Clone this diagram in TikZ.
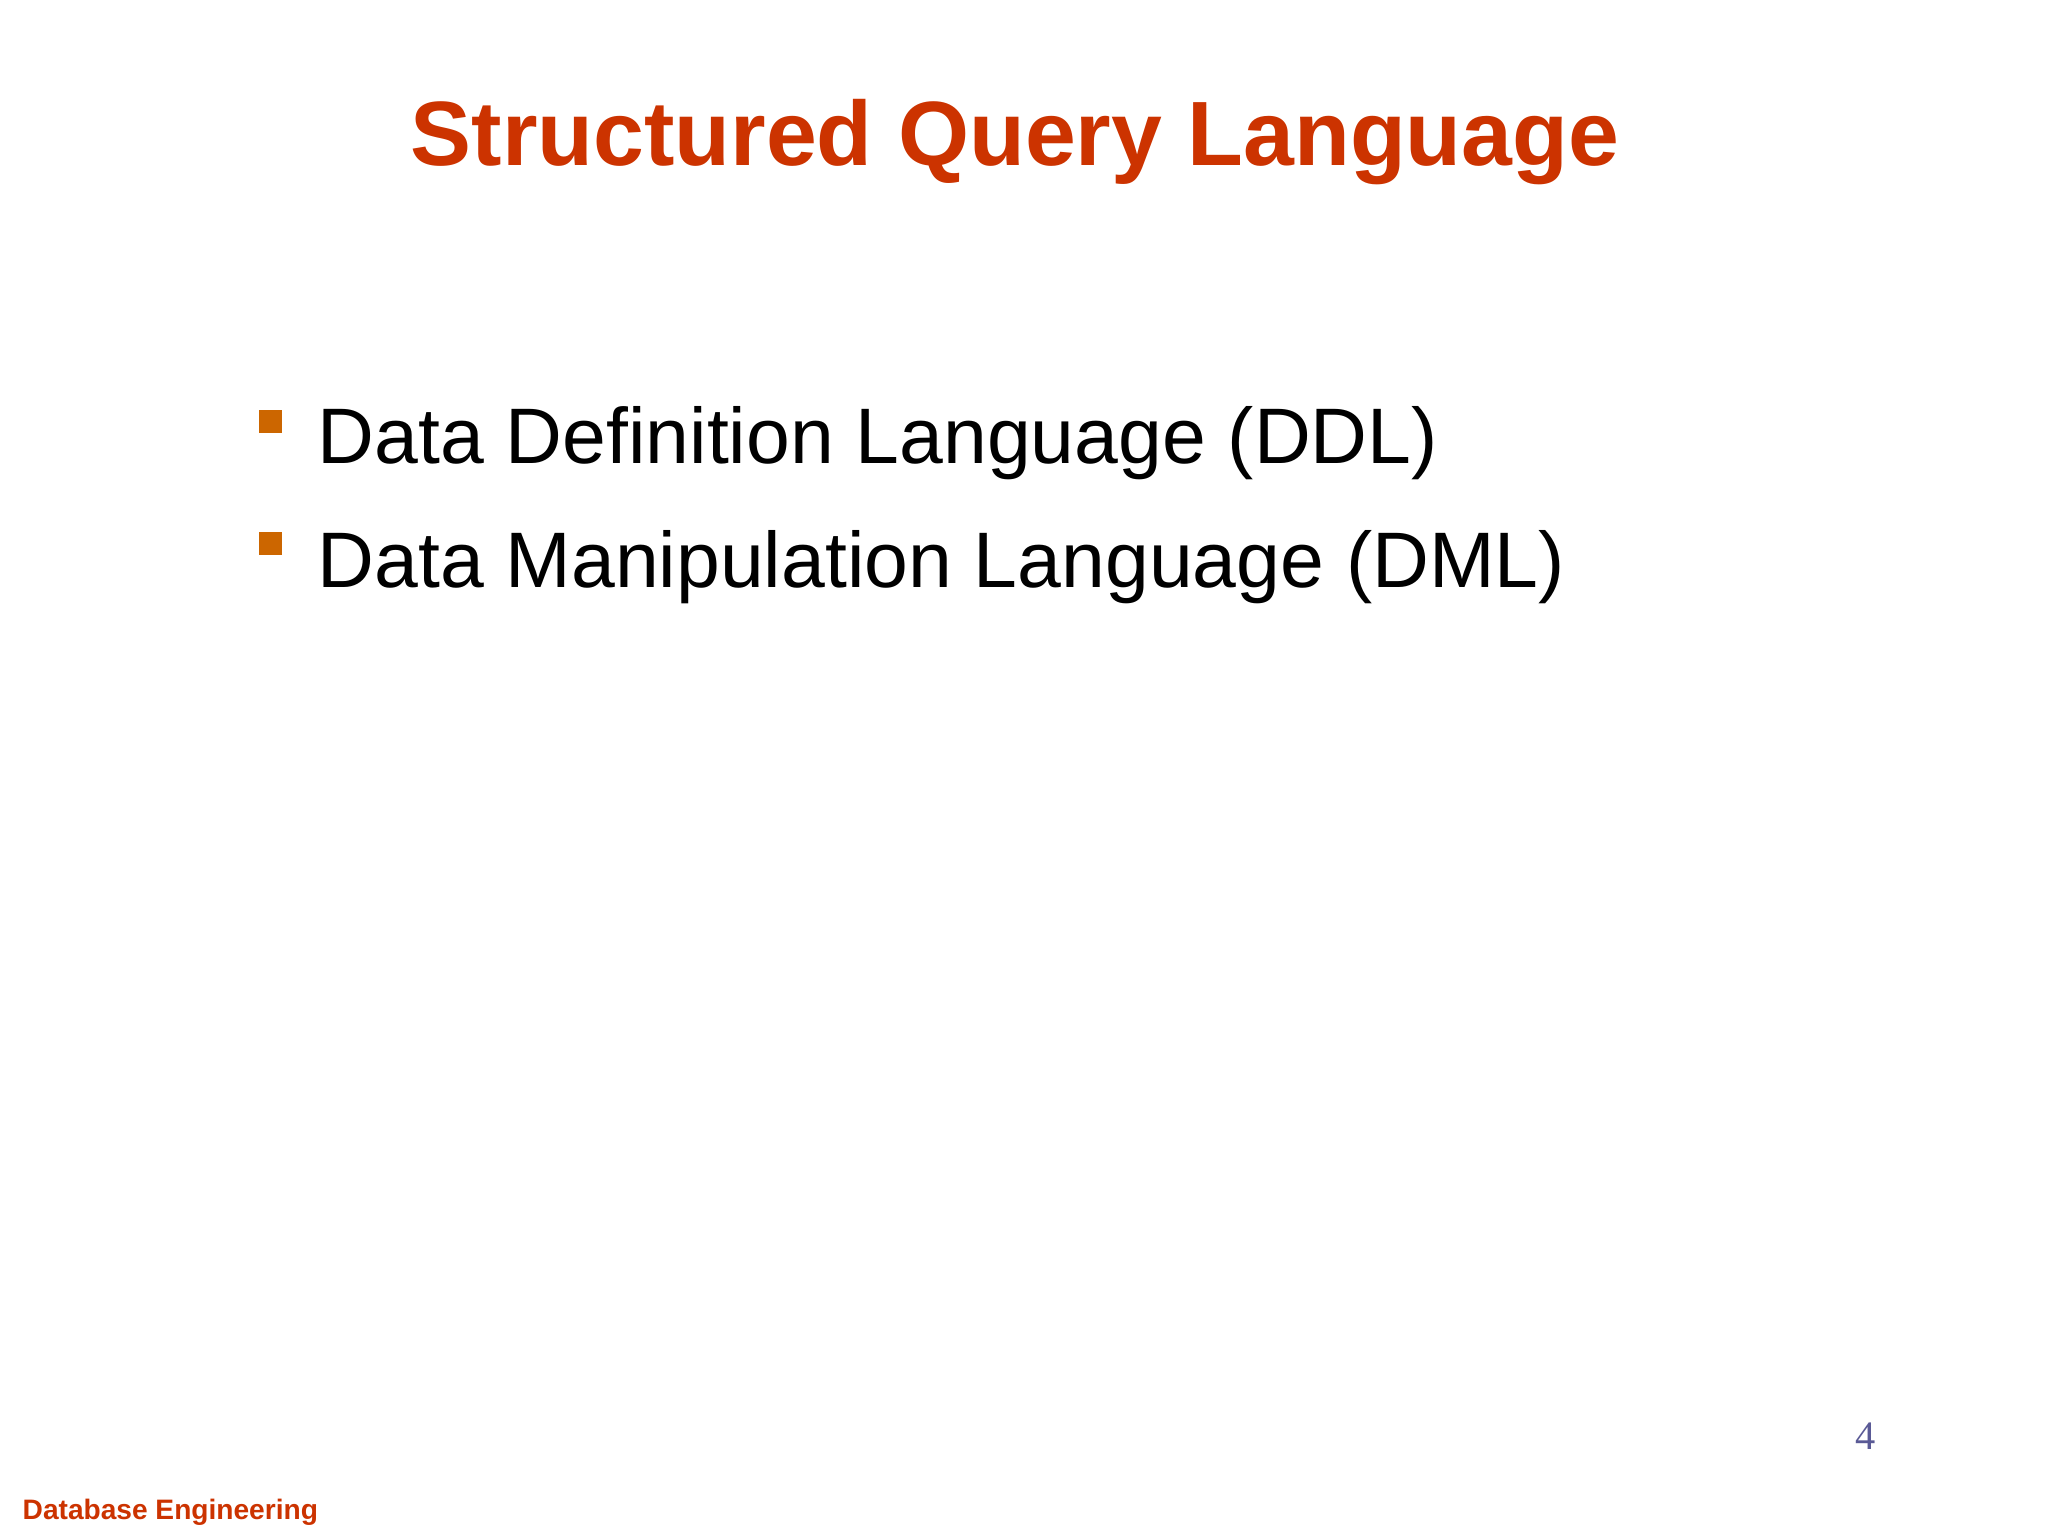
\documentclass[tikz,border=0pt]{standalone}
\usepackage{fontspec}
\setmainfont{Liberation Sans}
\newfontfamily\serifnum{Liberation Serif}
\definecolor{titlered}{HTML}{CC3300}
\definecolor{bulletor}{HTML}{CC6600}
\definecolor{numblue}{HTML}{5A5A96}
\tikzset{
  bullettext/.style={anchor=base west, inner sep=0pt, font=\fontsize{22.4pt}{27pt}\selectfont},
  bulletsq/.style={fill=bulletor, draw=none, minimum size=0.23cm, inner sep=0pt}
}
\begin{document}
\begin{tikzpicture}[x=1cm,y=1cm]
\useasboundingbox (0,0) rectangle (20.48,15.36);
\fill[white] (0,0) rectangle (20.48,15.36);
\node (title) [anchor=base, inner sep=0pt, text=titlered, font=\fontsize{26pt}{31pt}\selectfont\bfseries] at (10.15,13.7) {Structured Query Language};
\node (b1) [bulletsq] at (2.705,11.14) {};
\node (t1) [bullettext] at (3.17,10.72) {Data Definition Language (DDL)};
\node (b2) [bulletsq] at (2.705,9.92) {};
\node (t2) [bullettext] at (3.17,9.48) {Data Manipulation Language (DML)};
\node (num) [anchor=base west, inner sep=0pt, text=numblue, font=\serifnum\fontsize{11.5pt}{14pt}\selectfont] at (18.55,0.86) {4};
\node (foot) [anchor=base west, inner sep=0pt, text=titlered, font=\fontsize{8pt}{10pt}\selectfont\bfseries] at (0.22,0.16) {Database Engineering};
\end{tikzpicture}
\end{document}
